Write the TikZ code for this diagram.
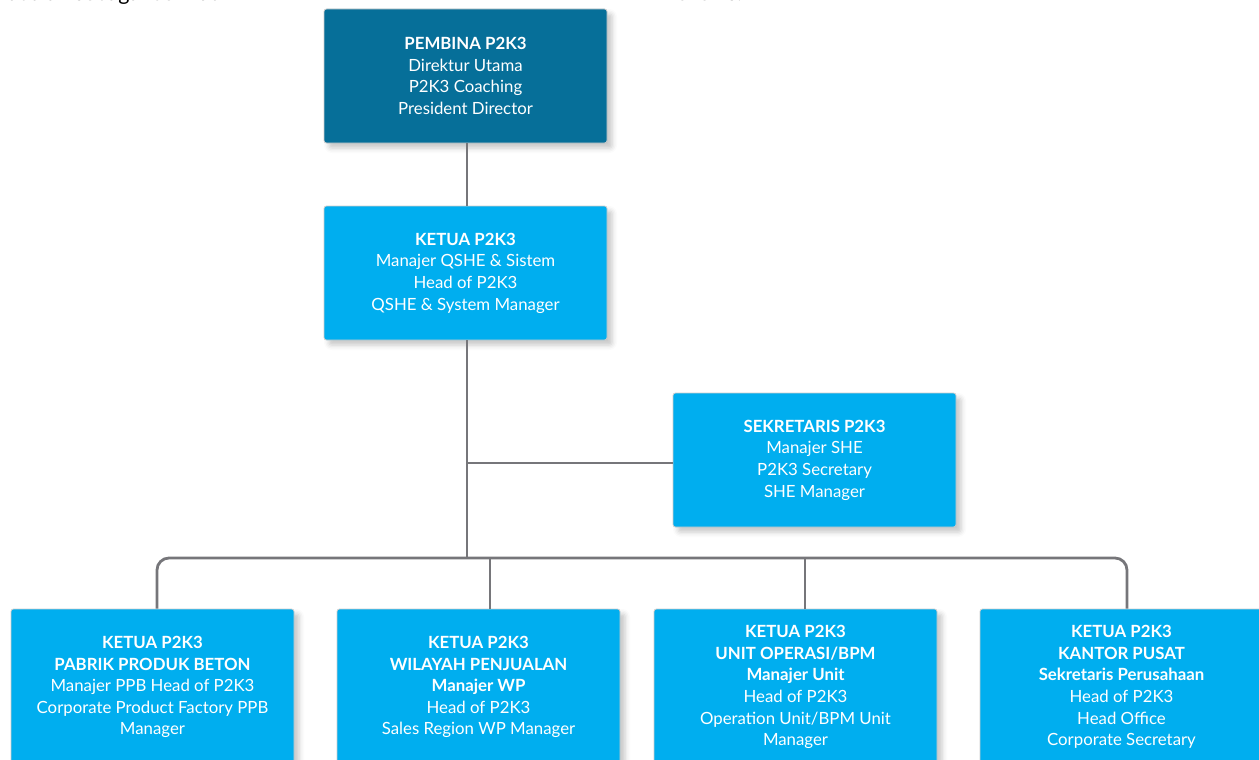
\documentclass[tikz,border=0pt]{standalone}
\usepackage{fontspec}
\setmainfont{Lato}
\usetikzlibrary{shadows.blur}
\definecolor{darkbox}{RGB}{6,111,153}
\definecolor{lightbox}{RGB}{0,174,239}
\definecolor{linegray}{RGB}{118,118,122}
\begin{document}
\begin{tikzpicture}[x=1pt,y=-1pt,
  box/.style={rectangle, rounded corners=2.5pt, draw=black!20, line width=0.8pt,
    minimum width=283pt, minimum height=134pt, inner sep=0pt, align=center,
    text=white, font=\fontsize{16.8}{21.6}\selectfont,
    blur shadow={shadow xshift=5pt, shadow yshift=-5pt, shadow blur radius=5pt, shadow opacity=22}},
  topbox/.style={box, fill=darkbox},
  midbox/.style={box, fill=lightbox},
  lowbox/.style={box, fill=lightbox, minimum height=156pt},
  link/.style={draw=linegray, line width=2.8pt},
  edgetext/.style={inner sep=0pt, anchor=base west, font=\fontsize{21.5}{24}\selectfont}]
\useasboundingbox (0,0) rectangle (1259,760);
\clip (0,0) rectangle (1259,760);

% running text above the chart
\node[edgetext] (lead) at (8,1) {adalah sebagai berikut};
\node[edgetext] (leaden) at (669,1) {follows:};

% boxes
\node[topbox] (pembina) at (465.5,76) {\textbf{PEMBINA P2K3}\\Direktur Utama\\P2K3 Coaching\\President Director};
\node[midbox] (ketua) at (465.5,273) {\textbf{KETUA P2K3}\\Manajer QSHE \& Sistem\\Head of P2K3\\QSHE \& System Manager};
\node[midbox] (sekretaris) at (814.5,460) {\textbf{SEKRETARIS P2K3}\\Manajer SHE\\P2K3 Secretary\\SHE Manager};

\node[lowbox] (ppb) at (152.5,687) {\textbf{KETUA P2K3}\\\textbf{PABRIK PRODUK BETON}\\Manajer PPB Head of P2K3\\Corporate Product Factory PPB\\Manager};
\node[lowbox] (wp) at (478.5,687) {\textbf{KETUA P2K3}\\\textbf{WILAYAH PENJUALAN}\\\textbf{Manajer WP}\\Head of P2K3\\Sales Region WP Manager};
\node[lowbox] (unit) at (795.5,687) {\textbf{KETUA P2K3}\\\textbf{UNIT OPERASI/BPM}\\\textbf{Manajer Unit}\\Head of P2K3\\Operation Unit/BPM Unit\\Manager};
\node[lowbox] (pusat) at (1121.5,687) {\textbf{KETUA P2K3}\\\textbf{KANTOR PUSAT}\\\textbf{Sekretaris Perusahaan}\\Head of P2K3\\Head Office\\Corporate Secretary};

% bus junctions
\coordinate (d1) at (157,558);
\coordinate (d2) at (490,558);
\coordinate (d3) at (805,558);
\coordinate (d4) at (1127,558);
\coordinate (spine) at (467,558);

% connectors
\draw[link] (pembina.south -| spine) -- (ketua.north -| spine);
\draw[link] (ketua.south -| spine) -- (spine);
\draw[link] ([yshift=-3pt]sekretaris.west -| spine) -- ([yshift=-3pt]sekretaris.west);
\draw[link, rounded corners=12pt] (ppb.north -| d1) -- (d1) -- (d4) -- (pusat.north -| d4);
\draw[link] (d2) -- (wp.north -| d2);
\draw[link] (d3) -- (unit.north -| d3);
\end{tikzpicture}
\end{document}
